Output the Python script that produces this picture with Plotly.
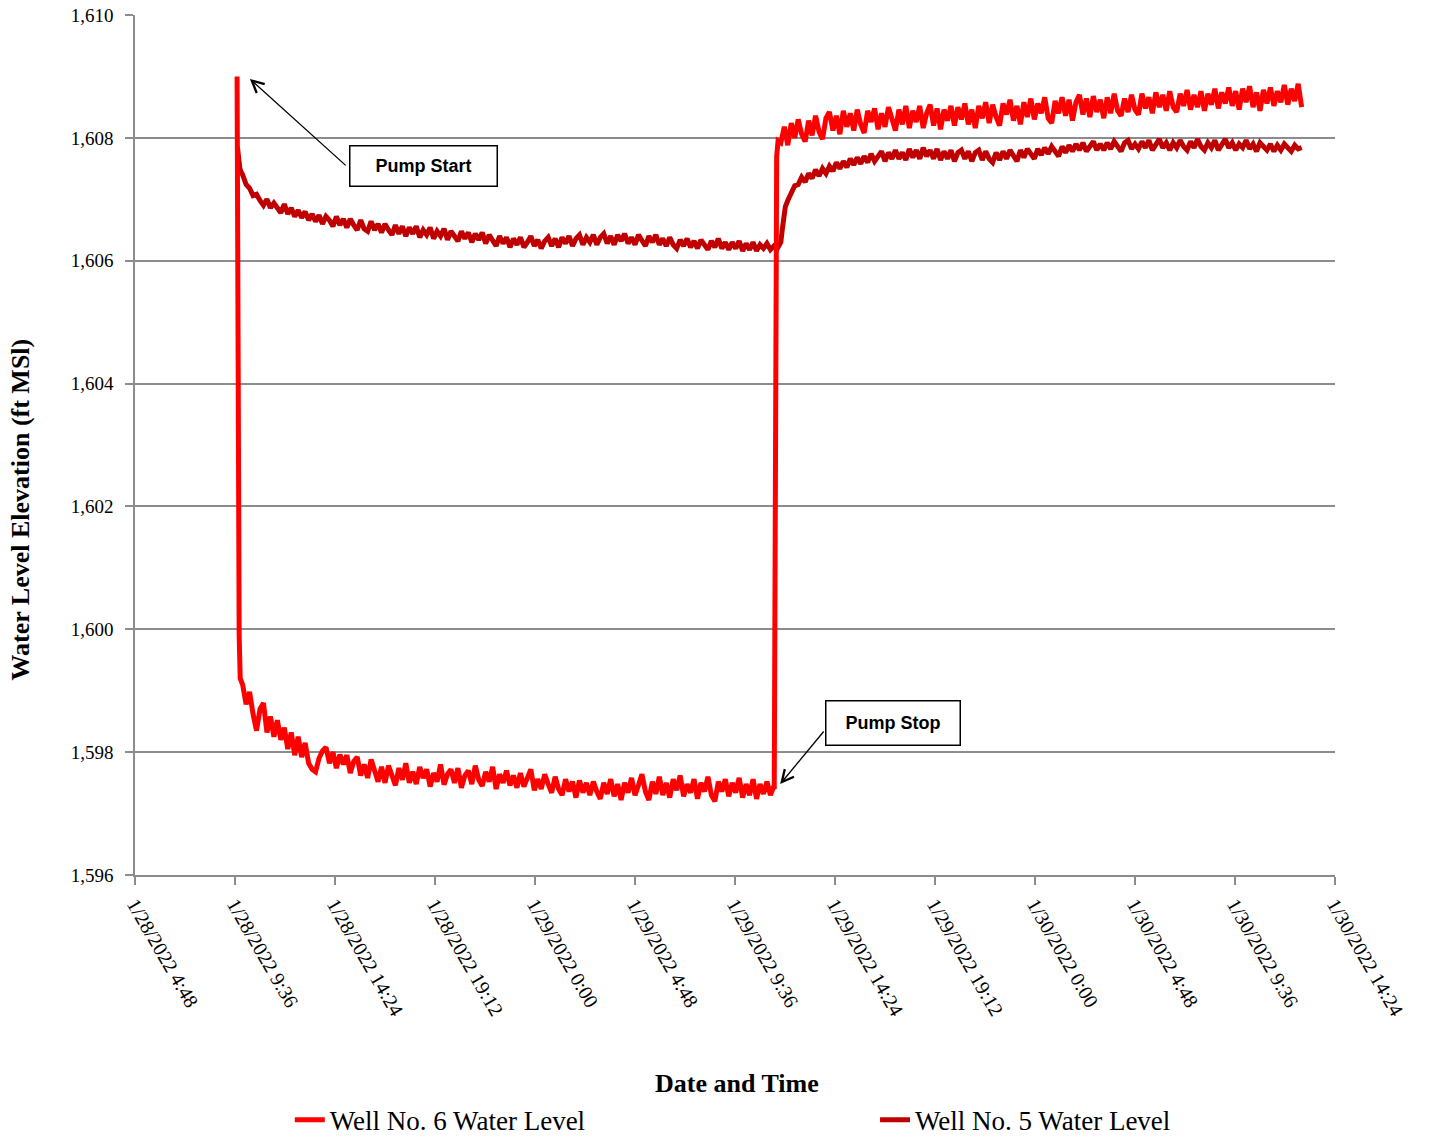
import pandas as pd
import plotly.graph_objects as go

# ---------------------------------------------------------------------------
# Logger data: minutes after 1/28/2022 4:48, water level elevation in ft MSL
# ---------------------------------------------------------------------------
START = pd.Timestamp("2022-01-28 04:48")
LOG_INTERVAL_MIN = 10

# Well No. 6 (pumping well)
well6_start_min = [294, 297, 300, 303]
well6_start_ft = [1609.00, 1603.00, 1599.90, 1599.20]

well6_pumping_first_min = 310
well6_pumping_ft = [
    1599.10, 1598.78, 1598.98, 1598.62, 1598.35, 1598.70, 1598.80, 1598.32, 1598.58, 1598.25,
    1598.52, 1598.20, 1598.40, 1598.05, 1598.32, 1597.95, 1598.25, 1597.92, 1598.15, 1597.82,
    1597.72, 1597.68, 1597.90, 1598.02, 1598.08, 1597.82, 1598.00, 1597.74, 1597.96, 1597.80,
    1597.95, 1597.66, 1597.85, 1597.92, 1597.62, 1597.80, 1597.58, 1597.88, 1597.70, 1597.52,
    1597.76, 1597.50, 1597.78, 1597.60, 1597.46, 1597.74, 1597.55, 1597.82, 1597.50, 1597.68,
    1597.48, 1597.76, 1597.58, 1597.72, 1597.44, 1597.66, 1597.52, 1597.80, 1597.47, 1597.64,
    1597.72, 1597.50, 1597.74, 1597.42, 1597.62, 1597.70, 1597.48, 1597.78, 1597.55, 1597.45,
    1597.68, 1597.52, 1597.76, 1597.40, 1597.64, 1597.50, 1597.70, 1597.46, 1597.62, 1597.42,
    1597.66, 1597.44, 1597.58, 1597.72, 1597.38, 1597.56, 1597.40, 1597.64, 1597.48, 1597.34,
    1597.60, 1597.40, 1597.30, 1597.56, 1597.36, 1597.52, 1597.26, 1597.54, 1597.34, 1597.50,
    1597.30, 1597.52, 1597.36, 1597.24, 1597.50, 1597.32, 1597.56, 1597.28, 1597.48, 1597.22,
    1597.50, 1597.34, 1597.58, 1597.30, 1597.46, 1597.64, 1597.36, 1597.22, 1597.52, 1597.32,
    1597.60, 1597.30, 1597.50, 1597.26, 1597.56, 1597.38, 1597.62, 1597.28, 1597.48, 1597.34,
    1597.56, 1597.24, 1597.50, 1597.36, 1597.60, 1597.30, 1597.20, 1597.52, 1597.36, 1597.56,
    1597.28, 1597.50, 1597.34, 1597.58, 1597.26, 1597.48, 1597.30, 1597.56, 1597.24, 1597.48,
    1597.32, 1597.52, 1597.30,
]

well6_stop_min = [1838, 1841, 1843, 1845, 1848, 1852]
well6_stop_ft = [1597.42, 1597.40, 1603.00, 1607.20, 1607.70, 1607.95]

well6_recovery_first_min = 1860
well6_recovery_ft = [
    1607.92, 1608.18, 1607.88, 1608.24, 1608.00, 1608.30, 1608.06, 1607.94, 1608.28, 1608.04,
    1608.36, 1608.10, 1607.98, 1608.32, 1608.42, 1608.12, 1608.36, 1608.06, 1608.44, 1608.18,
    1608.40, 1608.12, 1608.46, 1608.22, 1608.08, 1608.44, 1608.26, 1608.48, 1608.14, 1608.40,
    1608.18, 1608.50, 1608.28, 1608.12, 1608.46, 1608.22, 1608.52, 1608.16, 1608.44, 1608.26,
    1608.52, 1608.16, 1608.40, 1608.54, 1608.20, 1608.48, 1608.14, 1608.46, 1608.28, 1608.52,
    1608.20, 1608.50, 1608.30, 1608.56, 1608.22, 1608.46, 1608.16, 1608.52, 1608.32, 1608.58,
    1608.24, 1608.54, 1608.34, 1608.20, 1608.56, 1608.38, 1608.62, 1608.28, 1608.52, 1608.22,
    1608.58, 1608.34, 1608.64, 1608.30, 1608.56, 1608.40, 1608.66, 1608.32, 1608.24, 1608.60,
    1608.40, 1608.66, 1608.36, 1608.62, 1608.28, 1608.58, 1608.70, 1608.38, 1608.64, 1608.34,
    1608.68, 1608.42, 1608.62, 1608.32, 1608.66, 1608.40, 1608.72, 1608.44, 1608.36, 1608.64,
    1608.42, 1608.70, 1608.46, 1608.38, 1608.72, 1608.48, 1608.66, 1608.40, 1608.74, 1608.50,
    1608.70, 1608.44, 1608.76, 1608.50, 1608.42, 1608.72, 1608.52, 1608.78, 1608.46, 1608.70,
    1608.50, 1608.76, 1608.44, 1608.72, 1608.54, 1608.80, 1608.48, 1608.74, 1608.56, 1608.82,
    1608.52, 1608.76, 1608.46, 1608.80, 1608.58, 1608.84, 1608.50, 1608.74, 1608.44, 1608.78,
    1608.56, 1608.82, 1608.52, 1608.76, 1608.58, 1608.86, 1608.54, 1608.80, 1608.60, 1608.88,
    1608.50,
]

# Well No. 5 (observation well)
well5_start_min = [295, 298, 302, 306]
well5_start_ft = [1607.85, 1607.68, 1607.50, 1607.44]

well5_pumping_first_min = 310
well5_pumping_ft = [
    1607.40, 1607.24, 1607.18, 1607.06, 1607.08, 1606.98, 1606.90, 1607.00, 1606.86, 1606.94,
    1606.84, 1606.78, 1606.92, 1606.76, 1606.86, 1606.72, 1606.82, 1606.70, 1606.80, 1606.66,
    1606.76, 1606.64, 1606.74, 1606.60, 1606.72, 1606.66, 1606.56, 1606.72, 1606.58, 1606.68,
    1606.54, 1606.68, 1606.58, 1606.50, 1606.66, 1606.52, 1606.48, 1606.64, 1606.50, 1606.60,
    1606.46, 1606.60, 1606.50, 1606.42, 1606.58, 1606.44, 1606.56, 1606.40, 1606.54, 1606.44,
    1606.56, 1606.38, 1606.50, 1606.42, 1606.54, 1606.36, 1606.48, 1606.40, 1606.52, 1606.34,
    1606.48, 1606.38, 1606.32, 1606.48, 1606.36, 1606.46, 1606.30, 1606.44, 1606.34, 1606.46,
    1606.28, 1606.42, 1606.32, 1606.24, 1606.40, 1606.28, 1606.38, 1606.22, 1606.36, 1606.26,
    1606.38, 1606.22, 1606.30, 1606.40, 1606.24, 1606.34, 1606.20, 1606.32, 1606.38, 1606.24,
    1606.36, 1606.22, 1606.38, 1606.28, 1606.40, 1606.24, 1606.36, 1606.42, 1606.26, 1606.38,
    1606.30, 1606.42, 1606.26, 1606.38, 1606.44, 1606.28, 1606.40, 1606.26, 1606.42, 1606.32,
    1606.44, 1606.28, 1606.38, 1606.26, 1606.42, 1606.32, 1606.24, 1606.40, 1606.30, 1606.42,
    1606.26, 1606.36, 1606.24, 1606.38, 1606.26, 1606.20, 1606.34, 1606.24, 1606.36, 1606.22,
    1606.32, 1606.20, 1606.34, 1606.26, 1606.18, 1606.32, 1606.22, 1606.36, 1606.20, 1606.30,
    1606.18, 1606.30, 1606.20, 1606.32, 1606.16, 1606.28, 1606.18, 1606.30, 1606.16, 1606.26,
    1606.20, 1606.28, 1606.18,
]

well5_stop_min = [1840, 1850, 1856, 1860, 1864, 1868, 1873, 1880]
well5_stop_ft = [1606.24, 1606.20, 1606.26, 1606.30, 1606.50, 1606.72, 1606.88, 1606.98]

well5_recovery_first_min = 1890
well5_recovery_ft = [
    1607.10, 1607.22, 1607.24, 1607.36, 1607.28, 1607.42, 1607.34, 1607.48, 1607.38, 1607.50,
    1607.42, 1607.54, 1607.46, 1607.60, 1607.50, 1607.62, 1607.52, 1607.66, 1607.56, 1607.68,
    1607.58, 1607.70, 1607.60, 1607.74, 1607.62, 1607.70, 1607.78, 1607.62, 1607.76, 1607.66,
    1607.80, 1607.66, 1607.76, 1607.64, 1607.82, 1607.68, 1607.80, 1607.66, 1607.84, 1607.70,
    1607.80, 1607.66, 1607.82, 1607.64, 1607.78, 1607.66, 1607.80, 1607.62, 1607.76, 1607.80,
    1607.66, 1607.78, 1607.62, 1607.76, 1607.80, 1607.64, 1607.78, 1607.66, 1607.60, 1607.76,
    1607.64, 1607.78, 1607.66, 1607.80, 1607.70, 1607.62, 1607.80, 1607.68, 1607.82, 1607.72,
    1607.66, 1607.82, 1607.72, 1607.84, 1607.74, 1607.86, 1607.76, 1607.70, 1607.86, 1607.76,
    1607.88, 1607.78, 1607.90, 1607.80, 1607.92, 1607.78, 1607.86, 1607.94, 1607.80, 1607.90,
    1607.80, 1607.92, 1607.82, 1607.94, 1607.86, 1607.78, 1607.92, 1607.96, 1607.82, 1607.90,
    1607.82, 1607.94, 1607.84, 1607.96, 1607.80, 1607.90, 1607.98, 1607.84, 1607.92, 1607.80,
    1607.92, 1607.84, 1607.96, 1607.86, 1607.80, 1607.94, 1607.84, 1607.98, 1607.86, 1607.80,
    1607.92, 1607.84, 1607.96, 1607.80, 1607.90, 1607.98, 1607.84, 1607.92, 1607.80, 1607.90,
    1607.84, 1607.96, 1607.82, 1607.90, 1607.78, 1607.92, 1607.86, 1607.80, 1607.90, 1607.78,
    1607.88, 1607.80, 1607.90, 1607.84, 1607.78, 1607.88, 1607.82, 1607.84,
]

# Axis ticks
x_tick_labels = [
    "1/28/2022 4:48", "1/28/2022 9:36", "1/28/2022 14:24", "1/28/2022 19:12",
    "1/29/2022 0:00", "1/29/2022 4:48", "1/29/2022 9:36", "1/29/2022 14:24",
    "1/29/2022 19:12", "1/30/2022 0:00", "1/30/2022 4:48", "1/30/2022 9:36",
    "1/30/2022 14:24",
]
y_ticks = [1596, 1598, 1600, 1602, 1604, 1606, 1608, 1610]

# Annotation anchors (minutes after start, elevation)
pump_start_label = (831, 1607.55)
pump_start_arrow_tail = (611, 1607.53)
pump_start_arrow_head = (331, 1608.96)
pump_stop_label = (2184, 1598.48)
pump_stop_arrow_tail = (1987, 1598.36)
pump_stop_arrow_head = (1858, 1597.48)


def logged(first_min, values):
    return [first_min + LOG_INTERVAL_MIN * i for i in range(len(values))]


def to_time(minutes):
    return START + pd.to_timedelta(minutes, unit="min")


well6_min = (well6_start_min + logged(well6_pumping_first_min, well6_pumping_ft)
             + well6_stop_min + logged(well6_recovery_first_min, well6_recovery_ft))
well6_ft = well6_start_ft + well6_pumping_ft + well6_stop_ft + well6_recovery_ft

well5_min = (well5_start_min + logged(well5_pumping_first_min, well5_pumping_ft)
             + well5_stop_min + logged(well5_recovery_first_min, well5_recovery_ft))
well5_ft = well5_start_ft + well5_pumping_ft + well5_stop_ft + well5_recovery_ft

x_tick_vals = pd.to_datetime(x_tick_labels, format="%m/%d/%Y %H:%M")

SERIF = "Liberation Serif"
GRID = "#8c8c8c"

fig = go.Figure()
fig.add_trace(go.Scatter(
    x=to_time(well5_min), y=well5_ft, mode="lines", name="Well No. 5 Water Level",
    line=dict(color="#C00000", width=5), legend="legend2",
))
fig.add_trace(go.Scatter(
    x=to_time(well6_min), y=well6_ft, mode="lines", name="Well No. 6 Water Level",
    line=dict(color="#FF0000", width=5), legend="legend",
))

box_font = dict(family="Liberation Sans", size=18, color="black")
arrow_style = dict(axref="x", ayref="y", text="", showarrow=True,
                   arrowhead=5, arrowsize=1.8, arrowwidth=1.3, arrowcolor="black")
annotations = [
    dict(x=to_time(pump_start_arrow_head[0]), y=pump_start_arrow_head[1],
         ax=to_time(pump_start_arrow_tail[0]), ay=pump_start_arrow_tail[1], **arrow_style),
    dict(x=to_time(pump_stop_arrow_head[0]), y=pump_stop_arrow_head[1],
         ax=to_time(pump_stop_arrow_tail[0]), ay=pump_stop_arrow_tail[1], **arrow_style),
    dict(x=to_time(pump_start_label[0]), y=pump_start_label[1], text="<b>Pump Start</b>",
         showarrow=False, font=box_font, bgcolor="white", bordercolor="black",
         borderwidth=1.5, borderpad=1, width=144, height=37),
    dict(x=to_time(pump_stop_label[0]), y=pump_stop_label[1], text="<b>Pump Stop</b>",
         showarrow=False, font=box_font, bgcolor="white", bordercolor="black",
         borderwidth=1.5, borderpad=1, width=131, height=41),
    # axis titles
    dict(xref="paper", yref="paper", x=-0.0958, y=0.425, xanchor="center", yanchor="middle",
         text="<b>Water Level Elevation (ft MSl)</b>", textangle=-90, showarrow=False,
         font=dict(family=SERIF, size=26, color="black")),
    dict(xref="paper", yref="paper", x=0.502, y=-0.242, xanchor="center", yanchor="middle",
         text="<b>Date and Time</b>", showarrow=False,
         font=dict(family=SERIF, size=26, color="black")),
]

legend_font = dict(family=SERIF, size=27, color="black")
fig.update_layout(
    width=1430, height=1137,
    margin=dict(l=135, r=95, t=15, b=262, autoexpand=False),
    paper_bgcolor="white", plot_bgcolor="white",
    font=dict(family=SERIF, size=20, color="black"),
    showlegend=True,
    legend=dict(x=0.129, y=-0.285, xanchor="left", yanchor="middle",
                font=legend_font, bgcolor="rgba(0,0,0,0)"),
    legend2=dict(x=0.6167, y=-0.285, xanchor="left", yanchor="middle",
                 font=legend_font, bgcolor="rgba(0,0,0,0)"),
    annotations=annotations,
    xaxis=dict(
        range=[x_tick_vals[0], x_tick_vals[-1]],
        tickvals=x_tick_vals, ticktext=x_tick_labels, tickangle=60,
        showgrid=False, zeroline=False, automargin=False,
        showline=True, linecolor=GRID, linewidth=1.5,
        ticks="outside", ticklen=8, tickcolor=GRID, tickwidth=1.5,
        tickfont=dict(family=SERIF, size=20, color="black"),
    ),
    yaxis=dict(
        range=[1596, 1610], tickvals=y_ticks, tickformat=",",
        showgrid=True, gridcolor=GRID, gridwidth=1.5, zeroline=False, automargin=False,
        showline=True, linecolor=GRID, linewidth=1.5,
        ticks="outside", ticklen=8, tickcolor=GRID, tickwidth=1.5,
        ticklabelstandoff=8,
        tickfont=dict(family=SERIF, size=19, color="black"),
    ),
)

fig.write_html("out.html")
